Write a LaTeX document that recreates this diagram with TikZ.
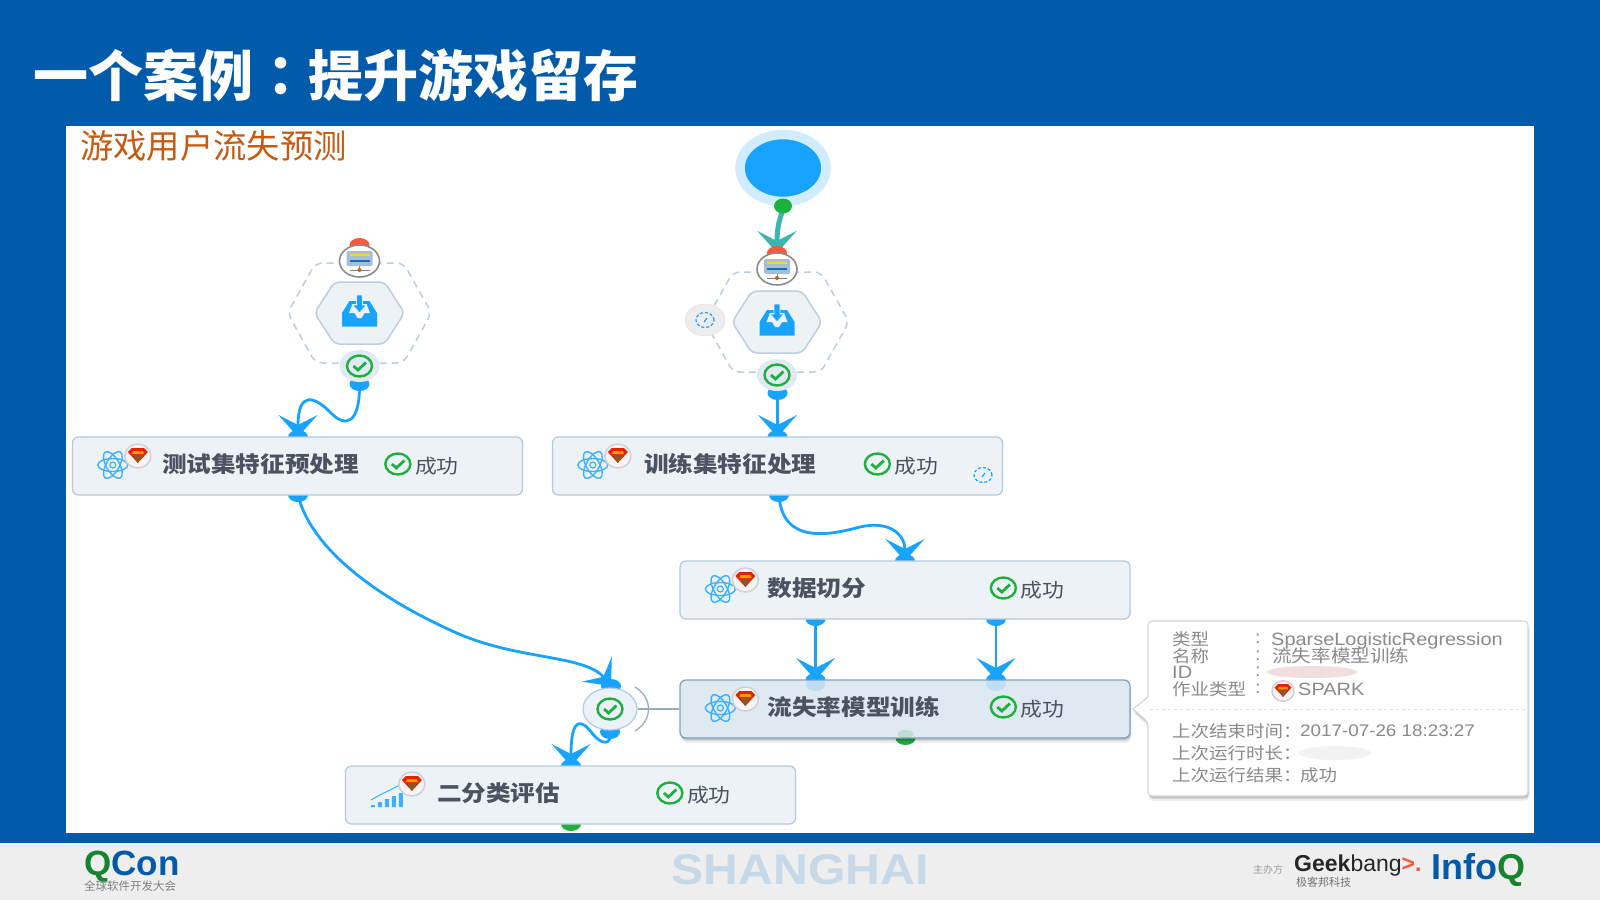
\documentclass[tikz,border=0pt]{standalone}
\usepackage{fontspec}
\usepackage{xcolor}
\setmainfont{Noto Sans CJK SC}
\newfontfamily\colonfont{Noto Sans CJK TC}
\newfontfamily\wideCJK[FakeStretch=1.12]{Noto Sans CJK SC}
\newfontfamily\wideLatin[FakeStretch=1.12]{Liberation Sans}
\newfontfamily\logoLatin{Liberation Sans}
\usetikzlibrary{arrows.meta,positioning,backgrounds,shapes.geometric,shadows,calc}
\definecolor{slideblue}{RGB}{1,91,170}
\definecolor{footgray}{RGB}{238,238,238}
\definecolor{flowblue}{RGB}{24,163,255}
\definecolor{haloblue}{RGB}{209,236,255}
\definecolor{okgreen}{RGB}{29,176,62}
\definecolor{tealarrow}{RGB}{60,180,176}
\definecolor{boxfill}{RGB}{237,242,247}
\definecolor{boxline}{RGB}{181,202,219}
\definecolor{activefill}{RGB}{223,233,241}
\definecolor{activeline}{RGB}{127,163,190}
\definecolor{boxtext}{RGB}{75,83,96}
\definecolor{hexline}{RGB}{188,206,224}
\definecolor{donefill}{RGB}{226,233,243}
\definecolor{dockline}{RGB}{175,203,234}
\definecolor{dockfill}{RGB}{236,242,249}
\definecolor{servericon}{RGB}{165,190,220}
\definecolor{cityblue}{RGB}{198,217,232}
\definecolor{tipgray}{RGB}{138,138,138}
\definecolor{blurpink}{RGB}{243,222,222}
\definecolor{subtitle}{RGB}{197,90,17}
\definecolor{redcap}{RGB}{245,90,60}
\tikzset{
  atomicon/.pic={
    \foreach \a in {0,60,120} {\draw[flowblue!85, line width=1.4pt, rotate=\a] (0,0) ellipse (15pt and 6.5pt);}
    \draw[flowblue!85, line width=1.2pt] (0,0) circle (3pt);
  },
  sparkicon/.pic={
    \draw[black!18, fill=black!4, line width=1.5pt] (0,0) ellipse (13pt and 12pt);
    \fill[red!70!orange!90!black] (-10,-4) -- (-6,-8) -- (6,-8) -- (10,-4) -- (0,7) -- cycle;
    \fill[orange!80!yellow] (-5,-5) -- (5,-5) -- (6,-2) -- (-6,-2) -- cycle;
    \fill[brown!70!black] (-5,-1) -- (5,-1) -- (0,7) -- cycle;
  },
  checkicon/.pic={
    \draw[okgreen, line width=2.4pt] (0,0) ellipse (12.5pt and 10.5pt);
    \draw[okgreen, line width=2.8pt] (-6,0) -- (-1.5,4) -- (6.5,-3.5);
  },
  clockicon/.pic={
    \draw[flowblue, line width=1.2pt, dash pattern=on 3pt off 2pt] (0,0) ellipse (9pt and 7.5pt);
    \draw[flowblue, line width=1.2pt] (-1,2) -- (2,-2);
  },
  servericon/.pic={
    \fill[servericon, rounded corners=1.5pt] (-13,-10) rectangle (13,5);
    \fill[yellow!80!orange] (-10,-7.5) rectangle (10,-5);
    \fill[flowblue!70!black] (-10,-1.5) rectangle (10,1);
    \draw[black!50, line width=1pt] (0,5) -- (0,9) (-10,9) -- (10,9);
    \fill[orange!80!black] (0,9) circle (2pt);
  },
  inboxicon/.pic={
    \fill[flowblue] (-17.5,13.5) -- (17.5,13.5) -- (17.5,0) -- (10,-12) -- (-10,-12) -- (-17.5,0) -- cycle;
    \fill[boxfill] (-10.5,0) -- (-7,-9) -- (7,-9) -- (10.5,0) -- (5,0) -- (2,5) -- (-2,5) -- (-5,0) -- cycle;
    \fill[flowblue, draw=boxfill, line width=.8pt] (-3,-18) -- (3,-18) -- (3,-8) -- (7,-8) -- (0,0) -- (-7,-8) -- (-3,-8) -- cycle;
  },
  hexframe/.pic={
    \draw[hexline, line width=1.5pt, dash pattern=on 7pt off 5pt, rounded corners=7pt] (-72,0) -- (-44,-50) -- (44,-50) -- (72,0) -- (44,50) -- (-44,50) -- cycle;
    \draw[hexline, fill=boxfill, line width=1.5pt, rounded corners=5pt] (-45,0) -- (-25,-31) -- (25,-31) -- (45,0) -- (25,31) -- (-25,31) -- cycle;
  },
  charticon/.pic={
    \fill[flowblue!85] (-17,9) rectangle (-13,11) (-10,6) rectangle (-6,11) (-3,3) rectangle (1,11) (4,0) rectangle (8,11) (11,-3) rectangle (15,11);
    \draw[flowblue!85, line width=1pt] (-17,4) -- (-8,-1) -- (2,-6) -- (12,-11);
  }
}
\begin{document}
\begin{tikzpicture}[
  x=1pt, y=-1pt,
  flowbox/.style={draw=boxline, fill=boxfill, rounded corners=6pt, line width=1.3pt, minimum width=450pt, minimum height=58pt},
  softshadow/.style={drop shadow={shadow xshift=1pt, shadow yshift=-5pt, fill=black, opacity=.06}, drop shadow={shadow xshift=1pt, shadow yshift=-3pt, fill=black, opacity=.1}, drop shadow={shadow xshift=.5pt, shadow yshift=-1.5pt, fill=black, opacity=.14}},
  activebox/.style={flowbox, draw=activeline, fill=activefill, softshadow},
  seethrough/.style={ellipse, opacity=.16, minimum width=20pt, minimum height=14pt, inner sep=0pt},
  titletext/.style={font=\wideCJK\fontsize{22}{24}\selectfont\bfseries, text=boxtext, inner sep=0pt, anchor=west},
  oktext/.style={font=\wideCJK\fontsize{19.5}{22}\selectfont, text=boxtext, inner sep=0pt, anchor=west},
  tiptext/.style={font=\wideCJK\fontsize{16.5}{19}\selectfont, text=tipgray, inner sep=0pt, anchor=west},
  tipval/.style={font=\wideLatin\fontsize{17.8}{20}\selectfont, text=tipgray, inner sep=0pt, anchor=west},
  badge/.style={ellipse, draw=black!45, fill=white, line width=1.6pt, minimum width=40pt, minimum height=32pt, inner sep=0pt},
  donebadge/.style={ellipse, fill=donefill, minimum width=40pt, minimum height=32pt, inner sep=0pt},
  port/.style={ellipse, fill=flowblue, minimum width=20pt, minimum height=14pt, inner sep=0pt},
  greenport/.style={port, fill=okgreen},
  redport/.style={port, fill=redcap},
  smudge/.style={ellipse, fill=blurpink, inner sep=0pt},
  flowarr/.style={draw=flowblue, line width=2.8pt, -{Stealth[length=22pt, width=39pt, inset=10pt]}}
]
\useasboundingbox (0,0) rectangle (1600,900);
\begin{scope}[on background layer]
  \fill[slideblue] (0,0) rectangle (1600,843);
  \fill[footgray] (0,843) rectangle (1600,900);
  \fill[white] (66,126) rectangle (1534,833);
\end{scope}

\node[inner sep=0pt, anchor=west, text=white, font=\fontsize{55}{60}\selectfont\bfseries] (title) at (33,75) {一个案例{\colonfont ：}提升游戏留存};
\node[inner sep=0pt, anchor=west, text=subtitle, font=\fontsize{33.3}{36}\selectfont] (subtitle) at (80,146) {游戏用户流失预测};

\node[ellipse, fill=flowblue, draw=haloblue, line width=9.5pt, minimum width=86pt, minimum height=67pt, inner sep=0pt] (start) at (783,168) {};

\node[flowbox] (testbox) at (297.5,466) {};
\node[flowbox] (trainbox) at (777.5,466) {};
\node[flowbox] (splitbox) at (905,590) {};
\node[activebox] (modelbox) at (905,709) {};
\node[flowbox] (evalbox) at (570.5,795) {};

\node[seethrough, fill=flowblue] (modelinlglow) at (815.5,684) {};
\node[seethrough, fill=flowblue] (modelinrglow) at (996,684) {};
\node[seethrough, fill=okgreen, minimum height=8pt, minimum width=16pt] (modeloutglow) at (905.5,734) {};

\foreach \bn/\bt/\tx/\cx in {testbox/测试集特征预处理/90/326, trainbox/训练集特征处理/92/325.5, splitbox/数据切分/88/324, modelbox/流失率模型训练/88/324, evalbox/二分类评估/92/325} {
  \node[titletext] (\bn name) at ([xshift=\tx pt, yshift=2pt]\bn.west) {\bt};
  \pic at ([xshift=\cx pt, yshift=2pt]\bn.west) {checkicon};
  \node[oktext] (\bn ok) at ([xshift=\cx pt + 17pt]\bn.west) {成功};
}
\foreach \bn in {testbox,trainbox,splitbox,modelbox} {
  \pic at ([xshift=41pt, yshift=1pt]\bn.west) {atomicon};
  \pic at ([xshift=66pt, yshift=10pt]\bn.west) {sparkicon};
}
\pic at ([xshift=43pt, yshift=-1pt]evalbox.west) {charticon};
\pic at ([xshift=67pt, yshift=11pt]evalbox.west) {sparkicon};
\pic at (983,475) {clockicon};

\pic at (359.5,313) {hexframe};
\pic at (359.5,313) {inboxicon};
\pic at (777,322) {hexframe};
\pic at (777,322) {inboxicon};

\node[redport] (testcap) at (359.5,245) {};
\node[redport] (traincap) at (777,253) {};
\node[badge] (testserver) at (359.5,261) {};
\pic at (testserver) {servericon};
\node[badge] (trainserver) at (777,269) {};
\pic at (trainserver) {servericon};
\node[port] (testout) at (359.5,384) {};
\node[port] (trainout) at (777.5,393) {};
\node[donebadge] (testdone) at (359.5,366) {};
\pic at (testdone) {checkicon};
\node[donebadge] (traindone) at (777,375) {};
\pic at (traindone) {checkicon};
\node[donebadge, fill=black!7, draw=black!12] (trainclock) at (705,320) {};
\pic at (trainclock) {clockicon};

\node[port] (dockin) at (611,686) {};
\node[port] (dockout) at (610,732) {};
\node[ellipse, draw=dockline, fill=dockfill, line width=1.2pt, minimum width=54pt, minimum height=42pt, inner sep=0pt] (dock) at (610,709) {};
\pic at (dock) {checkicon};

\node[greenport, minimum width=18pt, minimum height=15pt] (startout) at (783,206) {};

\begin{scope}[on background layer]
  \node[port] (testin) at (298,437) {};
  \node[port] (trainin) at (777.5,437) {};
  \node[port] (testboxout) at (298,495) {};
  \node[port] (trainboxout) at (779,495) {};
  \node[port] (splitin) at (905,561) {};
  \node[port] (splitoutl) at (815.5,619) {};
  \node[port] (splitoutr) at (996,619) {};
  \node[port] (modelinl) at (815.5,680) {};
  \node[port] (modelinr) at (996,680) {};
  \node[port] (evalin) at (571,766) {};
  \node[greenport] (modelout) at (905.5,738) {};
  \node[greenport] (evalout) at (571,824) {};
  \draw[draw=tealarrow, line width=5pt, -{Stealth[length=22pt, width=39pt, inset=10pt]}] (startout.center) .. controls (783,214) and (777,220) .. (traincap.center);
  \draw[flowarr] (testout.center) .. controls (360,425) and (345,428) .. (330,412) .. controls (315,397) and (298,390) .. (testin.center);
  \draw[flowarr] (trainout.center) -- (trainin.center);
  \draw[flowarr] (testboxout.center) .. controls (310,545) and (370,595) .. (459,634) .. controls (520,660) and (585,655) .. (dockin.center);
  \draw[flowarr] (trainboxout.center) .. controls (782,545) and (830,535) .. (860,527) .. controls (890,520) and (905,535) .. (splitin.center);
  \draw[flowarr] (splitoutl.center) -- (modelinl.center);
  \draw[flowarr] (splitoutr.center) -- (modelinr.center);
  \draw[flowarr] (dockout.center) .. controls (612,745) and (602,746) .. (592,733) .. controls (582,720) and (571,715) .. (evalin.center);
  \draw[black!15!boxline, line width=1.3pt] (dock) -- (modelbox);
  \draw[black!15!boxline, line width=1.3pt] (635,687) .. controls (653,698) and (653,720) .. (635,731);
\end{scope}

\draw[black!16, fill=white, rounded corners=4pt, line width=1.2pt, softshadow] (1148,621) -- (1528,621) -- (1528,796) -- (1148,796) -- (1148,722) [sharp corners] -- (1133,709) -- (1148,697) [rounded corners=4pt] -- cycle;
\node[tiptext] (typekey) at (1172,639) {类型};
\node[tiptext] (namekey) at (1172,656) {名称};
\node[tipval] (idkey) at (1172,672) {ID};
\node[tiptext] (jobkey) at (1172,689) {作业类型};
\foreach \y in {639,656,672,689} {\node[tipval] at (1255,\y) {:};}
\node[tipval] (typeval) at (1271,640.5) {SparseLogisticRegression};
\node[tiptext, font=\wideCJK\fontsize{17.5}{19}\selectfont] (nameval) at (1272,656) {流失率模型训练};
\node[smudge, minimum width=90pt, minimum height=12pt] (idblur) at (1312,672) {};
\pic[scale=.85] at (1283,691) {sparkicon};
\node[tipval] (jobval) at (1298,689) {SPARK};
\draw[black!12, line width=.8pt, dashed] (1150,709) -- (1527,709);
\node[tiptext] (endkey) at (1172,731) {上次结束时间：};
\node[tipval, font=\wideLatin\fontsize{16.8}{20}\selectfont] (endval) at (1300,731) {2017-07-26 18:23:27};
\node[tiptext] (lenkey) at (1172,753) {上次运行时长：};
\node[smudge, fill=black!5, minimum width=72pt, minimum height=14pt] (lenblur) at (1335,753) {};
\node[tiptext] (reskey) at (1172,775) {上次运行结果：};
\node[tiptext] (resval) at (1300,775) {成功};

\node[inner sep=0pt, anchor=west, font=\logoLatin\fontsize{35}{38}\selectfont\bfseries, text=slideblue] (qcon) at (84,867) {\textcolor{okgreen!75!black}{Q}Con};
\node[inner sep=0pt, anchor=west, text=black!50, font=\fontsize{11.5}{13}\selectfont] (qconsub) at (84,886) {全球软件开发大会};
\node[inner sep=0pt, text=cityblue, font=\wideLatin\fontsize{43}{46}\selectfont\bfseries] (city) at (800,870) {SHANGHAI};
\node[inner sep=0pt, anchor=west, text=black!40, font=\fontsize{10}{12}\selectfont] (host) at (1253,870) {主办方};
\node[inner sep=0pt, anchor=west, font=\logoLatin\fontsize{23}{28}\selectfont, text=black!85] (geekname) at (1294,866) {\textbf{Geek}bang\textcolor{redcap}{\textbf{>.}}};
\node[inner sep=0pt, anchor=west, text=black!55, font=\fontsize{11}{13}\selectfont] (geeksub) at (1296,882) {极客邦科技};
\node[inner sep=0pt, anchor=west, font=\logoLatin\fontsize{36}{38}\selectfont\bfseries, text=slideblue] (infoq) at (1431,870) {Info\textcolor{okgreen!75!black}{Q}};
\end{tikzpicture}
\end{document}
